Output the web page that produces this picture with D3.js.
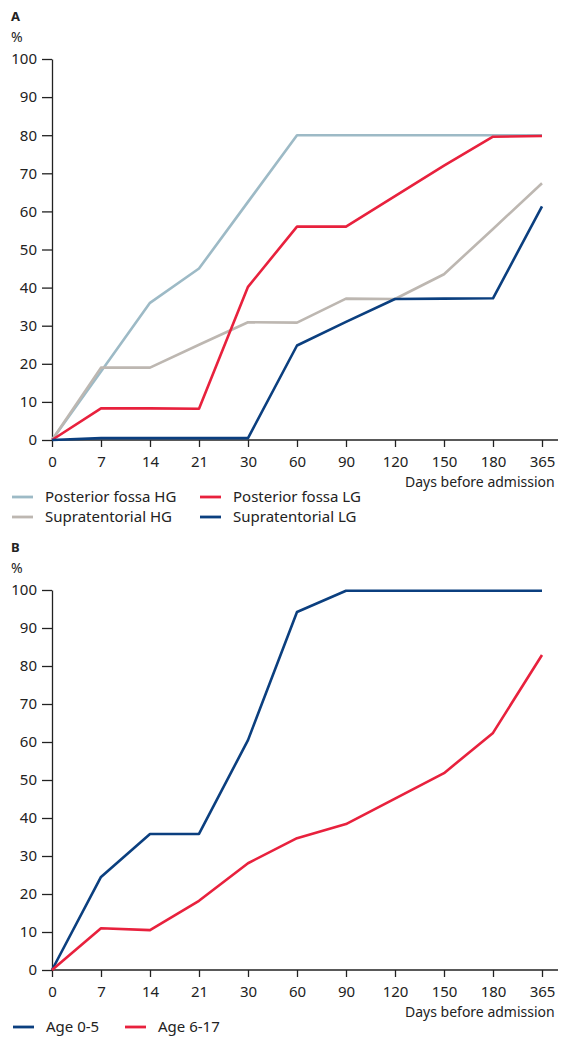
<!DOCTYPE html>
<html>
<head>
<meta charset="utf-8">
<style>
  body { margin: 0; background: #fff; }
  svg { display: block; font-family: 'Noto Sans', sans-serif; }
</style>
</head>
<body>
<svg width="561" height="1037"></svg>
<script src="https://d3js.org/d3.v7.min.js"></script>
<script>
// days before admission (category axis)
const days = ["0", "7", "14", "21", "30", "60", "90", "120", "150", "180", "365"];
const yTicks = [0, 10, 20, 30, 40, 50, 60, 70, 80, 90, 100];

// panel A, tumour groups
const postFossaHG = [0, 18, 36, 45, 62.5, 80, 80, 80, 80, 80, 80];
const postFossaLG = [0, 8.3, 8.3, 8.2, 40.2, 56, 56, 64, 72, 79.6, 79.8];
const supraHG = [0, 19, 19, 25, 30.9, 30.8, 37.1, 37, 43.5, 55.4, 67.4];
const supraLG = [0, 0.5, 0.5, 0.5, 0.5, 24.8, 31, 37, 37.1, 37.2, 61.3];

// panel B, age groups
const age0to5 = [0, 24.5, 35.8, 35.8, 60.5, 94.2, 99.8, 99.8, 99.8, 99.8, 99.8];
const age6to17 = [0, 11, 10.5, 18.2, 28.1, 34.7, 38.4, 45.1, 51.8, 62.4, 82.9];

const colors = {
  lightBlue: "#9dbac6",
  red: "#e8213d",
  grey: "#bdb7b1",
  navy: "#0b3f7f"
};

const svg = d3.select("svg");

function drawPanel(opts) {
  const x = d3.scalePoint().domain(days).range([52, 542]);
  const y = d3.scaleLinear().domain([0, 100]).range([opts.bottom, opts.top]);
  const g = svg.append("g");

  g.append("text").attr("x", 11).attr("y", opts.top - 38)
    .style("font-size", "13px").style("font-weight", "bold").attr("fill", "#222").text(opts.letter);
  g.append("text").attr("x", 11).attr("y", opts.top - 17)
    .style("font-size", "14px").attr("fill", "#222").text("%");

  // y axis
  const ya = g.append("g").attr("transform", "translate(52,0)")
    .call(d3.axisLeft(y).tickValues(yTicks).tickSize(10).tickPadding(5).tickSizeOuter(0));
  ya.select(".domain").attr("stroke", "#222").attr("stroke-width", 1.3);
  ya.selectAll(".tick line").attr("stroke", "#222").attr("stroke-width", 1.3);
  ya.selectAll(".tick text").style("font-size", "15px").style("font-family", "'Noto Sans', sans-serif").attr("fill", "#222");

  // x axis
  const xa = g.append("g").attr("transform", `translate(0,${opts.bottom})`)
    .call(d3.axisBottom(x).tickSize(7).tickPadding(9).tickSizeOuter(0));
  xa.select(".domain").attr("d", `M52,0H558`).attr("stroke", "#222").attr("stroke-width", 1.3);
  xa.selectAll(".tick line").attr("stroke", "#222").attr("stroke-width", 1.3);
  xa.selectAll(".tick text").style("font-size", "15px").style("font-family", "'Noto Sans', sans-serif").attr("fill", "#222");

  g.append("text").attr("x", 405).attr("y", opts.bottom + 47)
    .style("font-size", "14px").attr("fill", "#222").text("Days before admission");

  const line = d3.line().x((d, i) => x(days[i])).y(d => y(d));
  opts.series.forEach(s => {
    g.append("path").datum(s.values)
      .attr("d", line).attr("fill", "none")
      .attr("stroke", s.color).attr("stroke-width", 2.6)
      .attr("stroke-linejoin", "round");
  });

  // legend
  opts.legend.forEach(l => {
    const s = opts.series[l.i];
    g.append("line").attr("x1", l.x).attr("x2", l.x + 21)
      .attr("y1", l.y).attr("y2", l.y)
      .attr("stroke", s.color).attr("stroke-width", 2.8);
    g.append("text").attr("x", l.x + 33).attr("y", l.y + 5)
      .style("font-size", "15px").attr("fill", "#222").text(s.name);
  });
}

drawPanel({
  letter: "A", top: 59, bottom: 440,
  series: [
    { name: "Posterior fossa HG", values: postFossaHG, color: colors.lightBlue },
    { name: "Supratentorial HG", values: supraHG, color: colors.grey },
    { name: "Posterior fossa LG", values: postFossaLG, color: colors.red },
    { name: "Supratentorial LG", values: supraLG, color: colors.navy }
  ],
  legend: [
    { i: 0, x: 12, y: 497 }, { i: 2, x: 200, y: 497 },
    { i: 1, x: 12, y: 517 }, { i: 3, x: 200, y: 517 }
  ]
});

drawPanel({
  letter: "B", top: 590, bottom: 970,
  series: [
    { name: "Age 0-5", values: age0to5, color: colors.navy },
    { name: "Age 6-17", values: age6to17, color: colors.red }
  ],
  legend: [
    { i: 0, x: 13, y: 1027 }, { i: 1, x: 125, y: 1027 }
  ]
});
</script>
</body>
</html>
